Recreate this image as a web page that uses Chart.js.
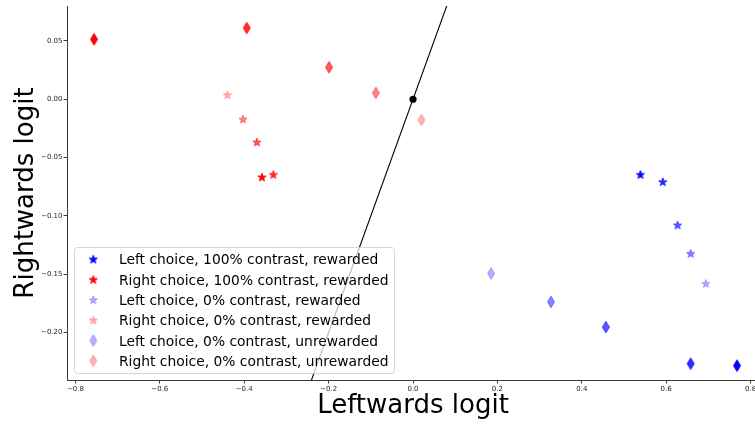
<!DOCTYPE html>
<html>
<head>
<meta charset="utf-8">
<script src="https://cdn.jsdelivr.net/npm/chart.js@4.4.1/dist/chart.umd.min.js"></script>
<style>
  html, body { margin: 0; padding: 0; background: #fff; overflow: hidden; width: 755px; height: 425px; }
  canvas { display: block; }
</style>
</head>
<body>
<canvas id="c" width="800" height="425" style="width:800px;height:425px"></canvas>
<script>
// Shade of each point within a group (first = fully saturated, last = faintest)
const shadeAlpha = [1, 0.825, 0.65, 0.475, 0.3];

// Rewarded trials (stars)
const leftStarX  = [0.539, 0.592, 0.627, 0.658, 0.694];
const leftStarY  = [-0.0646, -0.0708, -0.1079, -0.1322, -0.1579];
const rightStarX = [-0.358, -0.331, -0.370, -0.403, -0.440];
const rightStarY = [-0.0668, -0.0646, -0.0368, -0.0171, 0.0037];

// Unrewarded trials (thin diamonds)
const leftDiamondX  = [0.768, 0.658, 0.457, 0.327, 0.185];
const leftDiamondY  = [-0.2283, -0.2266, -0.1952, -0.1736, -0.1493];
const rightDiamondX = [-0.756, -0.394, -0.199, -0.088, 0.020];
const rightDiamondY = [0.0514, 0.0610, 0.0274, 0.0054, -0.0177];

// Decision boundary y = x and the origin
const boundaryX = [-0.3, 0.1];
const boundaryY = [-0.3, 0.1];
const originX = [0];
const originY = [0];

// Axis ticks and limits
const xTicks = [-0.8, -0.6, -0.4, -0.2, 0.0, 0.2, 0.4, 0.6, 0.8];
const yTicks = [-0.20, -0.15, -0.10, -0.05, 0.00, 0.05];
const xLimits = [-0.82, 0.82];
const yLimits = [-0.2406, 0.0799];

// Legend entries: [group, shade index, text]
const legendGroups = ['leftStar', 'rightStar', 'leftStar', 'rightStar', 'leftDiamond', 'rightDiamond'];
const legendShades = [0, 0, 4, 4, 4, 4];
const legendTexts = [
  'Left choice, 100% contrast, rewarded',
  'Right choice, 100% contrast, rewarded',
  'Left choice, 0% contrast, rewarded',
  'Right choice, 0% contrast, rewarded',
  'Left choice, 0% contrast, unrewarded',
  'Right choice, 0% contrast, unrewarded'
];

const FONT = "'DejaVu Sans', 'Liberation Sans', sans-serif";
const BLUE = [0, 0, 255];
const RED = [255, 0, 0];

function rgba(c, a) { return `rgba(${c[0]},${c[1]},${c[2]},${a})`; }

// Marker sprites: filled shape with a same-coloured edge, like matplotlib markers
function starSprite(color, alpha) {
  const cv = document.createElement('canvas');
  cv.width = 12; cv.height = 12;
  const g = cv.getContext('2d');
  const R = 4.3, r = R * 0.381966, cx = 6, cy = 6.3;
  g.beginPath();
  for (let i = 0; i < 10; i++) {
    const rad = i % 2 === 0 ? R : r;
    const ang = -Math.PI / 2 + i * Math.PI / 5;
    const px = cx + rad * Math.cos(ang), py = cy + rad * Math.sin(ang);
    i === 0 ? g.moveTo(px, py) : g.lineTo(px, py);
  }
  g.closePath();
  g.fillStyle = rgba(color, alpha);
  g.strokeStyle = rgba(color, alpha);
  g.lineWidth = 1;
  g.lineJoin = 'round';
  g.fill();
  g.stroke();
  return cv;
}

function diamondSprite(color, alpha) {
  const cv = document.createElement('canvas');
  cv.width = 10; cv.height = 16;
  const g = cv.getContext('2d');
  const h = 11.6, w = h * 0.6, cx = 5, cy = 8;
  g.beginPath();
  g.moveTo(cx, cy - h / 2);
  g.lineTo(cx + w / 2, cy);
  g.lineTo(cx, cy + h / 2);
  g.lineTo(cx - w / 2, cy);
  g.closePath();
  g.fillStyle = rgba(color, alpha);
  g.strokeStyle = rgba(color, alpha);
  g.lineWidth = 1;
  g.fill();
  g.stroke();
  return cv;
}

const groups = {
  leftStar:     { xs: leftStarX,     ys: leftStarY,     sprites: shadeAlpha.map(a => starSprite(BLUE, a)) },
  rightStar:    { xs: rightStarX,    ys: rightStarY,    sprites: shadeAlpha.map(a => starSprite(RED, a)) },
  leftDiamond:  { xs: leftDiamondX,  ys: leftDiamondY,  sprites: shadeAlpha.map(a => diamondSprite(BLUE, a)) },
  rightDiamond: { xs: rightDiamondX, ys: rightDiamondY, sprites: shadeAlpha.map(a => diamondSprite(RED, a)) }
};

function pts(xs, ys) { return xs.map((x, i) => ({ x, y: ys[i] })); }

const groupDatasets = Object.keys(groups).map((key, k) => ({
  label: key,
  data: pts(groups[key].xs, groups[key].ys),
  pointStyle: groups[key].sprites,
  pointRadius: 5,
  order: 2 + k
}));

function fmtTick(v, digits) {
  const s = Math.abs(v).toFixed(digits);
  return (v < -1e-9 ? '\u2212' : '') + s;
}

// Legend drawn inside the plot area, lower left, with a translucent frame
const boxLegend = {
  id: 'boxLegend',
  afterDatasetsDraw(chart) {
    const ctx = chart.ctx;
    const x0 = 74, y0 = 247, w = 320, h = 126, rowH = 20.3;
    ctx.save();
    ctx.beginPath();
    ctx.roundRect(x0 + 0.5, y0 + 0.5, w, h, 3);
    ctx.fillStyle = 'rgba(255,255,255,0.72)';
    ctx.fill();
    ctx.strokeStyle = 'rgba(204,204,204,0.8)';
    ctx.lineWidth = 1;
    ctx.stroke();
    ctx.font = `13.85px ${FONT}`;
    ctx.fillStyle = '#000';
    ctx.textBaseline = 'alphabetic';
    ctx.textAlign = 'left';
    legendTexts.forEach((t, i) => {
      const cy = 259.3 + i * rowH;
      const sp = groups[legendGroups[i]].sprites[legendShades[i]];
      ctx.drawImage(sp, 93.3 - sp.width / 2, cy - sp.height / 2);
      ctx.fillText(t, 119, cy + 5.1);
    });
    ctx.restore();
  }
};

new Chart(document.getElementById('c'), {
  type: 'scatter',
  data: {
    datasets: [
      {
        label: 'origin',
        data: pts(originX, originY),
        pointRadius: 3.6,
        pointBackgroundColor: '#000',
        pointBorderWidth: 0,
        order: 0
      },
      {
        label: 'boundary',
        data: pts(boundaryX, boundaryY),
        showLine: true,
        borderColor: '#000',
        borderWidth: 1.1,
        pointRadius: 0,
        order: 1
      },
      ...groupDatasets
    ]
  },
  options: {
    responsive: false,
    animation: false,
    events: [],
    layout: { padding: { top: 6, right: 41, left: 0, bottom: 0 } },
    plugins: {
      legend: { display: false },
      tooltip: { enabled: false }
    },
    scales: {
      x: {
        type: 'linear',
        position: 'bottom',
        min: xLimits[0],
        max: xLimits[1],
        afterBuildTicks: s => { s.ticks = xTicks.map(v => ({ value: v })); },
        afterFit: s => { s.height = 45; },
        border: { display: true, color: '#3a3a3a', width: 1 },
        grid: { drawOnChartArea: false, drawTicks: true, tickLength: 3.5, color: '#3a3a3a' },
        ticks: {
          font: { family: FONT, size: 7 },
          color: '#262626',
          padding: 1,
          maxRotation: 0,
          autoSkip: false,
          callback: v => fmtTick(v, 1)
        },
        title: {
          display: true,
          text: 'Leftwards logit',
          color: '#000',
          font: { family: FONT, size: 26 },
          padding: { top: 0, bottom: 3.4 }
        }
      },
      y: {
        type: 'linear',
        position: 'left',
        min: yLimits[0],
        max: yLimits[1],
        afterBuildTicks: s => { s.ticks = yTicks.map(v => ({ value: v })); },
        afterFit: s => { s.width = 67; },
        border: { display: true, color: '#3a3a3a', width: 1 },
        grid: { drawOnChartArea: false, drawTicks: true, tickLength: 3.5, color: '#3a3a3a' },
        ticks: {
          font: { family: FONT, size: 7 },
          color: '#262626',
          padding: 1,
          autoSkip: false,
          callback: v => fmtTick(v, 2)
        },
        title: {
          display: true,
          text: 'Rightwards logit',
          color: '#000',
          font: { family: FONT, size: 26 },
          padding: { top: 10.4, bottom: 0 }
        }
      }
    }
  },
  plugins: [boxLegend]
});
</script>
</body>
</html>
